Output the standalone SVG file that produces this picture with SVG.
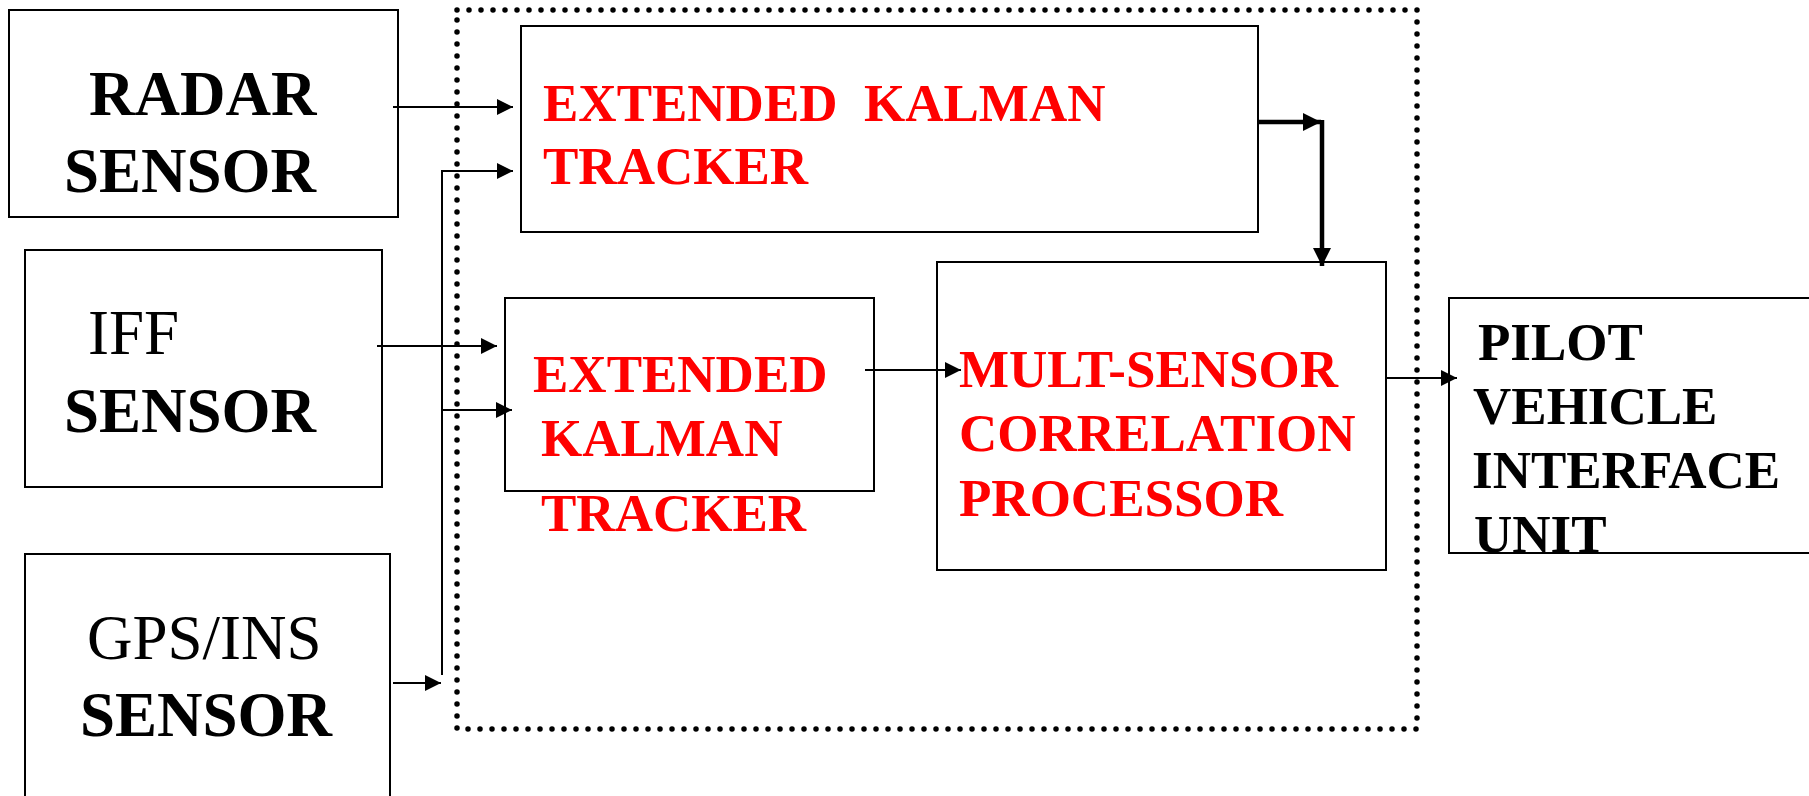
<svg xmlns="http://www.w3.org/2000/svg" width="1809" height="796" viewBox="0 0 1809 796">
<style>
.box{fill:#fff;stroke:#000;stroke-width:2}
.t{font-family:"Liberation Serif","Times New Roman",serif;}
.b{font-weight:bold}
.blk{fill:#000;font-size:63px}
.red{fill:#ff0000;font-size:53px;font-weight:bold}
.pv{fill:#000;font-size:53px;font-weight:bold}
.ln{fill:none;stroke:#000;stroke-width:2}
.thk{fill:none;stroke:#000;stroke-width:4.5}
.dot{fill:none;stroke:#000;stroke-width:5.5;stroke-dasharray:0 12;stroke-linecap:round}
</style>
<defs>
<marker id="ah" viewBox="0 0 16 16" refX="16" refY="8" markerWidth="16" markerHeight="16" markerUnits="userSpaceOnUse" orient="auto"><path d="M0,0 L16,8 L0,16 z" fill="#000"/></marker>
<marker id="ahb" viewBox="0 0 18 18" refX="18" refY="9" markerWidth="18" markerHeight="18" markerUnits="userSpaceOnUse" orient="auto"><path d="M0,0 L18,9 L0,18 z" fill="#000"/></marker>
</defs>
<rect width="1809" height="796" fill="#fff"/>
<g id="fusion-boundary"><rect class="dot" x="457" y="10" width="960" height="719"/></g>
<g id="radar"><rect class="box" x="9" y="10" width="389" height="207"/>
<text class="t b blk" x="89" y="115">RADAR</text><text class="t b blk" x="64" y="192">SENSOR</text></g>
<g id="iff"><rect class="box" x="25" y="250" width="357" height="237"/>
<text class="t blk" x="88" y="354">IFF</text><text class="t b blk" x="64" y="432">SENSOR</text></g>
<g id="gps"><rect class="box" x="25" y="554" width="365" height="260"/>
<text class="t blk" x="87" y="659">GPS/INS</text><text class="t b blk" x="80" y="736">SENSOR</text></g>
<g id="ekf1"><rect class="box" x="521" y="26" width="737" height="206"/>
<text class="t red" x="543" y="121" xml:space="preserve">EXTENDED  KALMAN</text><text class="t red" x="543" y="184">TRACKER</text></g>
<g id="ekf2"><rect class="box" x="505" y="298" width="369" height="193"/>
<text class="t red" x="533" y="392">EXTENDED</text><text class="t red" x="541" y="456">KALMAN</text><text class="t red" x="541" y="531">TRACKER</text></g>
<g id="mscp"><rect class="box" x="937" y="262" width="449" height="308"/>
<text class="t red" x="959" y="387">MULT-SENSOR</text><text class="t red" x="959" y="451">CORRELATION</text><text class="t red" x="959" y="516">PROCESSOR</text></g>
<g id="pvi"><rect class="box" x="1449" y="298" width="370" height="255"/>
<text class="t pv" x="1478" y="360">PILOT</text><text class="t pv" x="1473" y="424">VEHICLE</text><text class="t pv" x="1472" y="488">INTERFACE</text><text class="t pv" x="1474" y="552">UNIT</text></g>
<g id="connectors">
<line class="ln" x1="393" y1="107" x2="513" y2="107" marker-end="url(#ah)"/>
<path class="ln" d="M442,675 L442,171 L513,171" marker-end="url(#ah)"/>
<line class="ln" x1="441" y1="410" x2="512" y2="410" marker-end="url(#ah)"/>
<line class="ln" x1="377" y1="346" x2="497" y2="346" marker-end="url(#ah)"/>
<line class="ln" x1="393" y1="683" x2="441" y2="683" marker-end="url(#ah)"/>
<line class="ln" x1="865" y1="370" x2="961" y2="370" marker-end="url(#ah)"/>
<line class="ln" x1="1386" y1="378" x2="1457" y2="378" marker-end="url(#ah)"/>
<line class="thk" x1="1258" y1="122" x2="1321" y2="122" marker-end="url(#ahb)"/>
<line class="thk" x1="1322" y1="120" x2="1322" y2="266" marker-end="url(#ahb)"/>
</g>
</svg>
